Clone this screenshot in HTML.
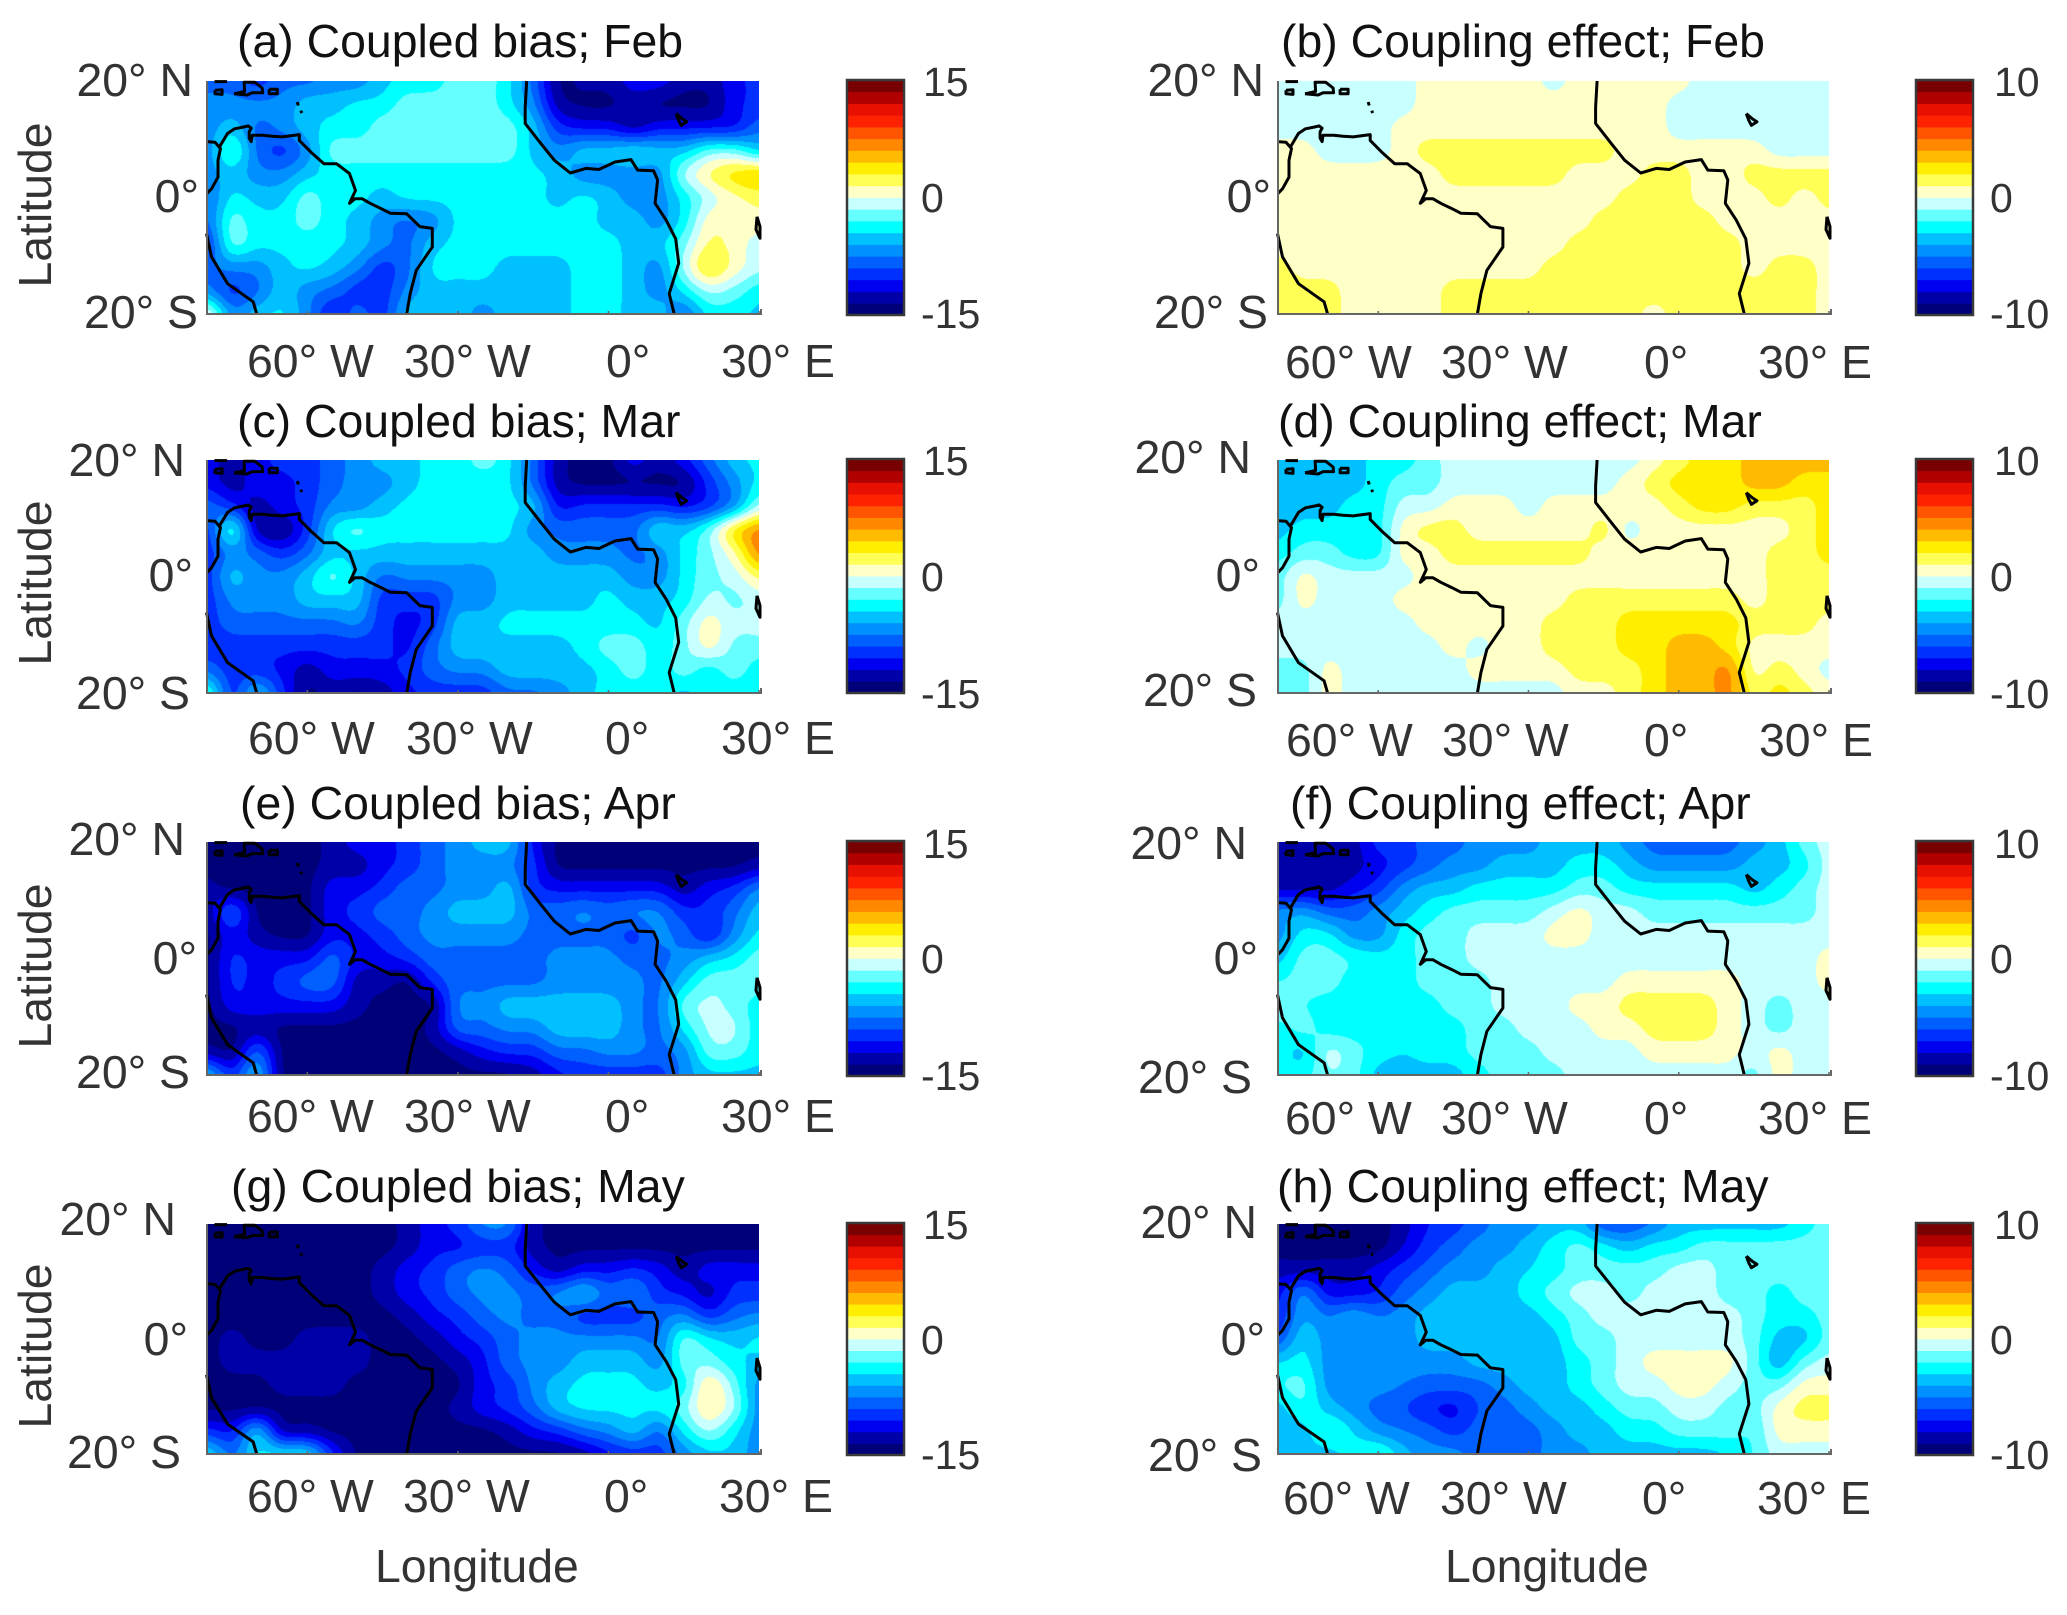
<!DOCTYPE html>
<html lang="en">
<head>
<meta charset="utf-8">
<title>Coupled bias and coupling effect maps</title>
<style>
html,body{margin:0;padding:0;background:#fff;}
#figure{position:relative;width:2067px;height:1615px;overflow:hidden;background:#fff;}
canvas{position:absolute;display:block;}
#overlay{position:absolute;left:0;top:0;}
text{font-family:"Liberation Sans",Arial,sans-serif;font-size:46.4px;fill:#333;}
text.title{fill:#111;}
text.cb{font-size:41px;}
</style>
</head>
<body>
<div id="figure">
<canvas id="cv-a" width="552" height="233" style="left:207px;top:81px"></canvas>
<canvas id="cv-b" width="551" height="233" style="left:1278px;top:81px"></canvas>
<canvas id="cv-c" width="552" height="233" style="left:207px;top:460px"></canvas>
<canvas id="cv-d" width="551" height="233" style="left:1278px;top:460px"></canvas>
<canvas id="cv-e" width="552" height="233" style="left:207px;top:842px"></canvas>
<canvas id="cv-f" width="551" height="233" style="left:1278px;top:842px"></canvas>
<canvas id="cv-g" width="552" height="230" style="left:207px;top:1224px"></canvas>
<canvas id="cv-h" width="551" height="230" style="left:1278px;top:1224px"></canvas>
<svg id="overlay" width="2067" height="1615" viewBox="0 0 2067 1615" xmlns="http://www.w3.org/2000/svg">
<g id="marks"></g>

<text class="title" x="237" y="57">(a) Coupled bias; Feb</text>
<text class="title" x="1281" y="57">(b) Coupling effect; Feb</text>
<text class="title" x="237" y="437">(c) Coupled bias; Mar</text>
<text class="title" x="1278" y="437">(d) Coupling effect; Mar</text>
<text class="title" x="240" y="819">(e) Coupled bias; Apr</text>
<text class="title" x="1290" y="819">(f) Coupling effect; Apr</text>
<text class="title" x="231" y="1202">(g) Coupled bias; May</text>
<text class="title" x="1277" y="1202">(h) Coupling effect; May</text>

<g text-anchor="end">
<text x="193" y="96">20° N</text>
<text x="199" y="212">0°</text>
<text x="198" y="328">20° S</text>
<text x="1264" y="96">20° N</text>
<text x="1271" y="212">0°</text>
<text x="1268" y="328">20° S</text>
<text x="185" y="476">20° N</text>
<text x="193" y="591">0°</text>
<text x="190" y="709">20° S</text>
<text x="1251" y="473">20° N</text>
<text x="1260" y="591">0°</text>
<text x="1257" y="706">20° S</text>
<text x="185" y="855">20° N</text>
<text x="197" y="974">0°</text>
<text x="190" y="1088">20° S</text>
<text x="1247" y="859">20° N</text>
<text x="1258" y="974">0°</text>
<text x="1252" y="1093">20° S</text>
<text x="176" y="1235">20° N</text>
<text x="188" y="1355">0°</text>
<text x="181" y="1468">20° S</text>
<text x="1257" y="1238">20° N</text>
<text x="1265" y="1355">0°</text>
<text x="1262" y="1471">20° S</text>
</g>

<g>
<text x="247" y="377">60° W</text>
<text x="404" y="377">30° W</text>
<text x="606" y="377">0°</text>
<text x="721" y="377">30° E</text>
<text x="1285" y="378">60° W</text>
<text x="1441" y="378">30° W</text>
<text x="1644" y="378">0°</text>
<text x="1758" y="378">30° E</text>
<text x="248" y="754">60° W</text>
<text x="406" y="754">30° W</text>
<text x="605" y="754">0°</text>
<text x="721" y="754">30° E</text>
<text x="1286" y="756">60° W</text>
<text x="1442" y="756">30° W</text>
<text x="1644" y="756">0°</text>
<text x="1759" y="756">30° E</text>
<text x="247" y="1132">60° W</text>
<text x="404" y="1132">30° W</text>
<text x="605" y="1132">0°</text>
<text x="721" y="1132">30° E</text>
<text x="1285" y="1134">60° W</text>
<text x="1441" y="1134">30° W</text>
<text x="1644" y="1134">0°</text>
<text x="1758" y="1134">30° E</text>
<text x="247" y="1512">60° W</text>
<text x="403" y="1512">30° W</text>
<text x="604" y="1512">0°</text>
<text x="719" y="1512">30° E</text>
<text x="1283" y="1514">60° W</text>
<text x="1440" y="1514">30° W</text>
<text x="1642" y="1514">0°</text>
<text x="1757" y="1514">30° E</text>
</g>

<g>
<text class="cb" x="923" y="96">15</text>
<text class="cb" x="921" y="212">0</text>
<text class="cb" x="921" y="328">-15</text>
<text class="cb" x="1994" y="96">10</text>
<text class="cb" x="1990" y="212">0</text>
<text class="cb" x="1990" y="328">-10</text>
<text class="cb" x="923" y="475">15</text>
<text class="cb" x="921" y="591">0</text>
<text class="cb" x="921" y="708">-15</text>
<text class="cb" x="1994" y="475">10</text>
<text class="cb" x="1990" y="591">0</text>
<text class="cb" x="1990" y="708">-10</text>
<text class="cb" x="923" y="858">15</text>
<text class="cb" x="921" y="973">0</text>
<text class="cb" x="921" y="1090">-15</text>
<text class="cb" x="1994" y="858">10</text>
<text class="cb" x="1990" y="973">0</text>
<text class="cb" x="1990" y="1090">-10</text>
<text class="cb" x="923" y="1239">15</text>
<text class="cb" x="921" y="1354">0</text>
<text class="cb" x="921" y="1469">-15</text>
<text class="cb" x="1994" y="1239">10</text>
<text class="cb" x="1990" y="1354">0</text>
<text class="cb" x="1990" y="1469">-10</text>
</g>

<g text-anchor="middle">
<text transform="translate(51,205) rotate(-90)">Latitude</text>
<text transform="translate(51,583) rotate(-90)">Latitude</text>
<text transform="translate(51,966) rotate(-90)">Latitude</text>
<text transform="translate(51,1346) rotate(-90)">Latitude</text>
</g>
<text x="375" y="1582">Longitude</text>
<text x="1445" y="1582">Longitude</text>
</svg>
</div>

<script>
// Grid axes of every map (degrees)
const gridLons = [-80,-75,-70,-65,-60,-55,-50,-45,-40,-35,-30,-25,-20,-15,-10,-5,0,5,10,15,20,25,30];
const gridLats = [20,16,12,8,4,0,-4,-8,-12,-16,-20];
const lonTicks = [-60,-30,0,30];
const biasLimit = 15;
const effectLimit = 10;
const levelColors = ['#000078','#0000a8','#0000f0','#0030ff','#0060ff','#0090ff','#00c0ff','#00ffff','#66ffff','#c8ffff','#ffffc8','#ffff55','#ffee00','#ffbb00','#ff8800','#ff5500','#ff2200','#e81000','#b00000','#780000'];

// (a) Coupled bias; Feb
const biasFeb = [
[-8,-8,-10,-8,-8,-7,-7,-5,-4,-4,-2,-2,-4,-8,-14,-13,-13,-11,-11,-13,-13,-11,-10],
[-7,-7,-7,-7,-5,-5,-4,-4,-2,-2,-2,-2,-4,-7,-13,-14,-14,-13,-14,-14,-14,-11,-10],
[-7,-5,-8,-7,-5,-4,-4,-2,-2,-2,-2,-2,-2,-5,-10,-11,-11,-13,-11,-11,-11,-11,-8],
[-7,-2,-8,-10,-7,-2,-2,-2,-2,-2,-2,-2,-2,-5,-7,-5,-5,-4,-5,-5,-2,-2,-5],
[-7,-5,-7,-7,-5,-4,-4,-4,-4,-4,-4,-4,-4,-4,-5,-7,-7,-7,-7,-1,2,4,5],
[-8,-4,-5,-5,-2,-4,-4,-5,-4,-4,-4,-4,-4,-4,-5,-4,-5,-7,-7,-4,-1,1,2],
[-8,-2,-4,-4,-2,-4,-5,-7,-8,-7,-4,-4,-4,-4,-4,-4,-5,-5,-7,-4,1,1,1],
[-10,-2,-4,-4,-4,-4,-5,-7,-8,-5,-4,-4,-4,-4,-4,-4,-4,-5,-5,-2,2,1,-1],
[-8,-7,-7,-5,-4,-5,-7,-10,-8,-4,-4,-4,-5,-5,-5,-4,-4,-5,-7,-1,4,1,-1],
[-7,-10,-8,-5,-7,-8,-10,-10,-7,-5,-5,-5,-5,-5,-5,-4,-4,-5,-7,-4,-1,-2,-4],
[1,-7,-5,-4,-7,-11,-8,-10,-5,-5,-5,-7,-5,-5,-5,-4,-4,-5,-5,-8,-4,-4,-5]
];
// (c) Coupled bias; Mar
const biasMar = [
[-11,-13,-11,-10,-10,-8,-7,-5,-5,-4,-4,-2,-4,-8,-13,-14,-14,-11,-13,-11,-8,-5,-4],
[-11,-13,-11,-11,-10,-8,-7,-7,-5,-4,-4,-4,-4,-8,-13,-14,-14,-14,-14,-14,-10,-7,-4],
[-8,-10,-13,-11,-10,-7,-7,-5,-4,-4,-4,-4,-4,-5,-11,-10,-10,-10,-10,-11,-10,-7,-1],
[-10,-2,-13,-14,-10,-4,-2,-4,-4,-4,-4,-4,-4,-7,-8,-8,-8,-8,-4,-5,-2,4,7],
[-10,-7,-8,-10,-8,-5,-5,-5,-5,-5,-5,-5,-5,-5,-7,-7,-7,-8,-7,-4,-2,1,7],
[-10,-5,-7,-7,-5,-2,-5,-8,-7,-7,-7,-7,-5,-5,-5,-5,-5,-7,-7,-4,-2,-1,2],
[-10,-7,-7,-7,-5,-5,-5,-10,-10,-10,-7,-7,-5,-5,-5,-5,-4,-5,-5,-4,-1,-2,-1],
[-10,-8,-8,-8,-8,-8,-7,-10,-11,-10,-5,-5,-4,-4,-4,-4,-4,-4,-5,-2,1,-1,-1],
[-10,-10,-10,-10,-10,-10,-10,-10,-11,-8,-5,-5,-5,-5,-5,-4,-2,-2,-4,-2,1,-2,-2],
[-8,-10,-10,-11,-13,-11,-11,-11,-10,-8,-7,-7,-5,-5,-5,-5,-4,-2,-4,-2,-4,-2,-4],
[-2,-10,-5,-10,-14,-13,-14,-13,-11,-10,-10,-10,-8,-8,-7,-5,-4,-4,-4,-5,-4,-4,-4]
];
// (e) Coupled bias; Apr
const biasApr = [
[-14,-14,-14,-14,-14,-13,-11,-11,-10,-8,-7,-5,-5,-11,-14,-14,-14,-14,-14,-14,-14,-14,-14],
[-14,-14,-14,-14,-14,-13,-13,-11,-10,-8,-7,-7,-7,-10,-14,-14,-14,-14,-14,-14,-14,-14,-13],
[-13,-14,-14,-14,-14,-11,-11,-10,-8,-8,-7,-7,-5,-10,-11,-11,-11,-11,-11,-13,-11,-10,-7],
[-13,-8,-14,-14,-14,-11,-10,-8,-8,-7,-5,-5,-5,-8,-8,-7,-8,-7,-7,-10,-10,-8,-5],
[-14,-11,-13,-14,-14,-11,-11,-10,-8,-7,-7,-7,-7,-8,-8,-8,-8,-10,-7,-8,-11,-7,-4],
[-14,-10,-11,-11,-11,-8,-11,-11,-10,-8,-8,-8,-8,-8,-7,-7,-7,-8,-8,-7,-5,-4,-2],
[-14,-10,-11,-10,-8,-8,-13,-13,-14,-10,-8,-8,-8,-8,-7,-7,-7,-7,-8,-5,-2,-2,-2],
[-14,-11,-11,-11,-11,-11,-13,-14,-14,-14,-7,-7,-5,-5,-5,-5,-5,-7,-8,-2,-1,-2,-4],
[-14,-14,-13,-14,-14,-14,-14,-14,-14,-13,-8,-8,-7,-7,-5,-5,-5,-7,-8,-4,-1,-1,-4],
[-13,-14,-8,-14,-14,-14,-14,-14,-14,-14,-13,-11,-10,-10,-8,-8,-7,-7,-8,-7,-2,-2,-4],
[-5,-10,-5,-14,-14,-14,-14,-14,-14,-14,-14,-14,-14,-13,-11,-10,-10,-10,-10,-7,-5,-5,-5]
];
// (g) Coupled bias; May
const biasMay = [
[-14,-14,-14,-14,-14,-14,-14,-14,-13,-11,-10,-7,-7,-13,-14,-14,-14,-14,-14,-14,-14,-14,-14],
[-14,-14,-14,-14,-14,-14,-14,-14,-13,-11,-11,-10,-10,-13,-14,-14,-14,-14,-14,-14,-14,-14,-14],
[-14,-14,-14,-14,-14,-14,-14,-13,-11,-10,-8,-7,-8,-11,-13,-11,-11,-10,-11,-13,-11,-11,-11],
[-14,-14,-14,-14,-14,-14,-14,-13,-11,-10,-8,-7,-7,-8,-7,-5,-8,-7,-10,-11,-13,-10,-10],
[-14,-14,-14,-14,-14,-14,-14,-14,-13,-11,-10,-8,-7,-8,-8,-10,-10,-10,-8,-7,-10,-8,-7],
[-14,-13,-14,-14,-13,-13,-13,-14,-14,-13,-11,-10,-8,-7,-7,-7,-7,-7,-8,-2,-4,-5,-4],
[-14,-13,-13,-13,-13,-13,-13,-14,-14,-14,-13,-11,-8,-7,-7,-5,-5,-5,-7,-2,-2,-4,-5],
[-14,-14,-14,-13,-13,-13,-14,-14,-14,-14,-14,-11,-10,-7,-5,-4,-4,-4,-5,-4,2,-2,-7],
[-14,-14,-14,-14,-14,-14,-14,-14,-14,-14,-13,-11,-10,-8,-5,-4,-4,-4,-4,-2,2,-1,-7],
[-10,-11,-5,-13,-13,-14,-14,-14,-14,-14,-14,-14,-13,-11,-10,-8,-7,-5,-8,-4,-1,-4,-7],
[-4,-8,-4,-4,-4,-10,-14,-14,-14,-14,-14,-14,-14,-14,-14,-13,-11,-10,-10,-7,-5,-5,-7]
];
// (b) Coupling effect; Feb
const effectFeb = [
[-.5,-.5,-.5,-.5,-.5,-.5,.5,.5,.5,.5,.5,-.5,.5,.5,.5,.5,.5,-.5,-.5,-.5,-.5,-.5,-.5],
[-.5,-.5,-.5,-.5,-.5,-.5,.5,.5,.5,.5,.5,.5,.5,.5,.5,.5,-.5,-.5,-.5,-.5,-.5,-.5,-.5],
[-.5,-.5,-.5,-.5,-.5,.5,.5,.5,.5,.5,.5,.5,.5,.5,.5,.5,-.5,-.5,-.5,-.5,-.5,-.5,-.5],
[.5,.5,-.5,-.5,-.5,.5,1.5,1.5,1.5,1.5,1.5,1.5,1.5,1.5,.5,.5,.5,.5,.5,.5,-.5,-.5,-.5],
[.5,.5,.5,.5,.5,.5,.5,1.5,1.5,1.5,1.5,1.5,.5,.5,.5,1.5,1.5,.5,.5,1.5,1.5,1.5,1.5],
[.5,.5,.5,.5,.5,.5,.5,.5,.5,.5,.5,.5,.5,.5,1.5,1.5,1.5,.5,.5,.5,1.5,.5,1.5],
[.5,.5,.5,.5,.5,.5,.5,.5,.5,.5,.5,.5,.5,1.5,1.5,1.5,1.5,1.5,.5,.5,.5,.5,.5],
[.5,.5,.5,.5,.5,.5,.5,.5,.5,.5,.5,.5,1.5,1.5,1.5,1.5,1.5,1.5,1.5,.5,.5,.5,.5],
[1.5,.5,.5,.5,.5,.5,.5,.5,.5,.5,.5,1.5,1.5,1.5,1.5,1.5,1.5,1.5,1.5,.5,1.5,1.5,.5],
[1.5,1.5,1.5,.5,.5,.5,.5,1.5,1.5,1.5,1.5,1.5,1.5,1.5,1.5,1.5,1.5,1.5,1.5,1.5,1.5,1.5,.5],
[1.5,1.5,1.5,.5,.5,.5,.5,1.5,1.5,1.5,1.5,1.5,1.5,1.5,1.5,.5,1.5,1.5,1.5,1.5,1.5,1.5,.5]
];
// (d) Coupling effect; Mar
const effectMar = [
[-3.5,-3.5,-3.5,-3.5,-2.5,-2.5,-1.5,-.5,-.5,-.5,-.5,-.5,-.5,-.5,-.5,.5,1.5,2.5,2.5,3.5,3.5,3.5,3.5],
[-3.5,-3.5,-3.5,-3.5,-2.5,-1.5,-1.5,-.5,-.5,-.5,-.5,-.5,-.5,-.5,.5,1.5,2.5,2.5,2.5,3.5,3.5,2.5,2.5],
[-3.5,-3.5,-3.5,-2.5,-2.5,-.5,-.5,.5,.5,.5,-.5,.5,.5,.5,.5,.5,1.5,2.5,2.5,1.5,1.5,1.5,2.5],
[-3.5,-2.5,-2.5,-2.5,-2.5,.5,1.5,1.5,.5,.5,.5,.5,.5,1.5,-.5,.5,.5,.5,.5,.5,.5,1.5,2.5],
[-2.5,-1.5,-1.5,-2.5,-2.5,.5,.5,1.5,1.5,1.5,1.5,1.5,1.5,.5,.5,.5,.5,.5,.5,.5,1.5,1.5,2.5],
[-1.5,.5,-.5,-.5,-.5,-.5,.5,.5,.5,.5,.5,.5,.5,.5,.5,.5,.5,.5,.5,.5,1.5,1.5,1.5],
[-1.5,.5,-.5,-.5,-.5,.5,.5,.5,.5,.5,.5,.5,1.5,1.5,1.5,1.5,1.5,1.5,1.5,.5,1.5,1.5,1.5],
[-.5,-.5,-.5,-.5,-.5,-.5,.5,.5,.5,.5,.5,1.5,1.5,1.5,2.5,2.5,2.5,2.5,2.5,1.5,1.5,1.5,.5],
[-.5,-.5,-.5,-.5,-.5,-.5,-.5,.5,-.5,.5,.5,1.5,1.5,1.5,2.5,2.5,3.5,3.5,2.5,.5,.5,.5,.5],
[-1.5,-1.5,.5,-.5,-.5,-.5,-.5,-.5,.5,.5,.5,.5,1.5,1.5,1.5,2.5,3.5,3.5,4.5,.5,1.5,.5,-.5],
[-1.5,-1.5,.5,-.5,-.5,-.5,-.5,-.5,-.5,-.5,-.5,-.5,.5,.5,1.5,2.5,3.5,3.5,4.5,1.5,2.5,1.5,.5]
];
// (f) Coupling effect; Apr
const effectApr = [
[-8.5,-8.5,-8.5,-8.5,-6.5,-6.5,-5.5,-5.5,-4.5,-4.5,-4.5,-3.5,-3.5,-3.5,-4.5,-5.5,-5.5,-5.5,-5.5,-4.5,-3.5,-1.5,-.5],
[-8.5,-8.5,-8.5,-8.5,-7.5,-6.5,-5.5,-4.5,-4.5,-3.5,-3.5,-3.5,-2.5,-2.5,-3.5,-4.5,-4.5,-4.5,-4.5,-3.5,-3.5,-2.5,-.5],
[-8.5,-8.5,-8.5,-7.5,-6.5,-4.5,-3.5,-3.5,-2.5,-2.5,-2.5,-2.5,-1.5,-1.5,-2.5,-2.5,-2.5,-2.5,-2.5,-3.5,-2.5,-1.5,-.5],
[-4.5,-4,-5.5,-5.5,-4.5,-3.5,-2.5,-1.5,-1.5,-1.5,-1.5,-.5,.5,-.5,-.5,-1.5,-1.5,-1.5,-1.5,-1.5,-1.5,-1.5,-.5],
[-4.5,-2.5,-2.5,-4.5,-4.5,-2.5,-1.5,-1.5,-.5,-.5,-.5,.5,.5,-.5,-.5,-.5,-.5,-.5,-.5,-.5,-.5,-.5,-.5],
[-3.5,-1.5,-1.5,-2,-2.5,-2.5,-1.5,-1.5,-.5,-.5,-.5,-.5,-.5,-.5,-.5,-.5,-.5,-.5,-.5,-.5,-.5,-.5,.5],
[-2,-1.5,-1.5,-2.5,-2.5,-2.5,-1.5,-1.5,-1.5,-.5,-.5,-.5,-.5,-.5,.5,.5,.5,.5,.5,-.5,-.5,-.5,.5],
[-1,-2,-2.5,-2.5,-2.5,-2.5,-2.5,-1.5,-1.5,-.5,-.5,-.5,.5,.5,1.5,1.5,1.5,1.5,.5,-.5,-1.5,-.5,-.5],
[-2.5,-1.5,-2.5,-2.5,-2.5,-2.5,-2.5,-2.5,-1.5,-1.5,-.5,-.5,-.5,.5,.5,1.5,1.5,1.5,.5,-.5,-1.5,-.5,-.5],
[-2.5,-3.5,-.5,-1.5,-2.5,-3,-2.5,-2.5,-1.5,-1.5,-1.5,-.5,-.5,-.5,-.5,.5,.5,.5,.5,-.5,.5,-.5,-.5],
[-2.5,-2.5,-1,-1.5,-3.5,-3.5,-3.5,-3.5,-2.5,-1.5,-1.5,-1.5,-.5,-.5,-.5,-.5,-.5,-.5,-.5,-1.5,.5,-.5,-.5]
];
// (h) Coupling effect; May
const effectMay = [
[-9.5,-9.5,-9.5,-9.5,-9.5,-8.5,-7,-6.5,-5.5,-4.5,-4.5,-3.5,-3.5,-6,-6,-5,-3.5,-3.5,-3.5,-3.5,-3.5,-2.5,-1.5],
[-9.5,-9.5,-9.5,-9.5,-9.5,-8,-6.5,-5.5,-4.5,-4.5,-3.5,-2.5,-1.5,-2.5,-3.5,-2.5,-2.5,-1.5,-1.5,-1.5,-1.5,-1.5,-1.5],
[-8.5,-8.5,-8.5,-8.5,-7.5,-6.5,-5.5,-4.5,-4.5,-3.5,-3,-2.5,-1.5,-1.5,-1.5,-1.5,-.5,-.5,-1.5,-1.5,-1.5,-1.5,-1.5],
[-7.5,-4.5,-7.5,-7.5,-7,-5.5,-4.5,-3.5,-3.5,-3.5,-2.5,-1.5,-.5,-.5,-1.5,-.5,-.5,-.5,-1.5,-1.5,-2.5,-1.5,-1.5],
[-7,-4,-5,-4,-5,-4.5,-3.5,-3.5,-3.5,-3.5,-3.5,-2.5,-1.5,-.5,-.5,-.5,-.5,-.5,-.5,-1.5,-2.5,-2.5,-1.5],
[-6,-3,-4.5,-4.5,-4.5,-4.5,-3.5,-3.5,-3.5,-3.5,-3.5,-3.5,-1.5,-1.5,-.5,-.5,-.5,-.5,-.5,-1.5,-3.5,-3.5,-1.5],
[-3,-2.5,-4.5,-4.5,-4.5,-4.5,-4.5,-4.5,-3.5,-3.5,-3.5,-3.5,-2.5,-1.5,-.5,.5,.5,.5,.5,-1.5,-4,-1.5,-.5],
[-2,-1.5,-4.5,-4.5,-4.5,-5,-5.5,-5.5,-5.5,-4.5,-3.5,-3.5,-2.5,-1.5,-.5,-.5,.5,.5,-.5,-1.5,-1.5,.5,.5],
[-3.5,-2,-3.5,-4.5,-5.5,-6,-7,-7.5,-6,-5.5,-4.5,-3.5,-3.5,-2.5,-1.5,-1.5,-.5,-.5,-1.5,-1.5,.5,1.5,1.5],
[-3.5,-3.5,-1.5,-3,-4.5,-5,-5.5,-6.5,-5.5,-5.5,-5.5,-4.5,-3.5,-3.5,-2.5,-2.5,-1.5,-1.5,-1.5,-2,.5,.5,.5],
[-3.5,-3.5,-3.5,-2.5,-1.5,-3.5,-4.5,-4.5,-5.5,-5.5,-5.5,-4.5,-4.5,-3.5,-3.5,-3.5,-3.5,-3.5,-3,-2,-.5,-.5,-.5]
];

// Coastlines, lakes and islands as [lon, lat]
const coastPacific = [[-80.1,9.6],[-78.4,9.5],[-77.3,8.4],[-77.8,6.4],[-77.8,3.5],[-79.1,1.5],[-80,0.7]];
const coastSouthAmericaEast = [[-77.5,8.7],[-75.9,11],[-74.5,11.8],[-72.7,12.1],[-71.8,12.3],[-71.2,11.9],[-71.6,11.3],[-71.6,10.2],[-71.2,9.6],[-71,10.7],[-68.9,10.7],[-67,10.5],[-65,10.4],[-61.6,10.8],[-61.6,9.8],[-59.3,7.8],[-56.7,5.8],[-54.2,5.8],[-51.6,4.1],[-50.4,1.2],[-51.6,-1],[-50.5,-0.2],[-49.1,-0.2],[-47.5,-1],[-45.3,-1.9],[-43.5,-2.7],[-40.2,-2.8],[-37.6,-5],[-35.1,-5.3],[-35.1,-8.5],[-38.3,-12.5],[-39.5,-16.5],[-40.2,-20]];
const coastPeru = [[-80.1,-6.2],[-79.1,-10.2],[-75.9,-14.8],[-70.8,-17.9],[-70.1,-20]];
const coastAfrica = [[-16.3,20],[-16.6,15.5],[-16.6,12.7],[-13.4,9.2],[-10.8,6.4],[-7.6,4.2],[-4.5,5],[-1.9,4.8],[1.3,6.1],[4.5,6.5],[5.8,4.7],[9,4.6],[9.8,3],[9.3,-1],[11.5,-3.9],[13.4,-7.1],[14,-11.3],[12.1,-16.5],[13.1,-20]];
const lakeChad = [[13.5,14.4],[14.7,13.5],[15.6,13],[14.5,12.4],[14,13.2],[13.5,14.4]];
const lakeVictoria = [[29.6,-3.3],[30.2,-5],[30.2,-7],[29.4,-5.5],[29.6,-3.3]];
const islandOne = [[-78.4,18.4],[-77,18.5],[-77,17.7],[-78.4,17.8],[-78.4,18.4]];
const islandTwo = [[-74.6,17.8],[-72.5,18.2],[-72.6,19.8],[-70.5,19.8],[-69,18.8],[-68.9,18],[-71,18],[-72,17.6],[-74.6,17.8]];
const islandThree = [[-67.6,18.6],[-66,18.6],[-66,17.8],[-67.6,17.8],[-67.6,18.6]];
const islandTop = [[-78.5,19.9],[-76,19.9]];
const islandDotOne = [[-62,16.4],[-61.8,15.8]];
const islandDotTwo = [[-61.3,14.9],[-61.1,14.5]];
const coastlines = [coastPacific,coastSouthAmericaEast,coastPeru,coastAfrica,lakeChad,lakeVictoria,islandOne,islandTwo,islandThree,islandTop,islandDotOne,islandDotTwo];

// Layout of the figure
const panels = [
 {id:'a',values:biasFeb,limit:biasLimit,x:207,y:81,w:552,h:233,cx:847,cy:80,ch:235},
 {id:'b',values:effectFeb,limit:effectLimit,x:1278,y:81,w:551,h:233,cx:1916,cy:80,ch:235},
 {id:'c',values:biasMar,limit:biasLimit,x:207,y:460,w:552,h:233,cx:847,cy:459,ch:234},
 {id:'d',values:effectMar,limit:effectLimit,x:1278,y:460,w:551,h:233,cx:1916,cy:459,ch:234},
 {id:'e',values:biasApr,limit:biasLimit,x:207,y:842,w:552,h:233,cx:847,cy:841,ch:235},
 {id:'f',values:effectApr,limit:effectLimit,x:1278,y:842,w:551,h:233,cx:1916,cy:841,ch:235},
 {id:'g',values:biasMay,limit:biasLimit,x:207,y:1224,w:552,h:230,cx:847,cy:1223,ch:232},
 {id:'h',values:effectMay,limit:effectLimit,x:1278,y:1224,w:551,h:230,cx:1916,cy:1223,ch:232}
];
const cbarWidth = 57;
const SVGNS = 'http://www.w3.org/2000/svg';

const lonMin = gridLons[0], lonMax = gridLons[gridLons.length-1];
const latMax = gridLats[0], latMin = gridLats[gridLats.length-1];
function xScale(lon,p){ return p.x+(lon-lonMin)/(lonMax-lonMin)*p.w; }
function yScale(lat,p){ return p.y+(latMax-lat)/(latMax-latMin)*p.h; }
function levelOf(v,limit){
  const k = Math.floor((v+limit)/(2*limit)*levelColors.length);
  return Math.max(0,Math.min(levelColors.length-1,k));
}
function rgbOf(hex){
  return [parseInt(hex.slice(1,3),16),parseInt(hex.slice(3,5),16),parseInt(hex.slice(5,7),16)];
}
// Blend of an interpolating and an approximating cubic: keeps small features, rounds plateau corners
function cubic(a,b,c,d,t){
  const cr = b+0.5*t*(c-a+t*(2*a-5*b+4*c-d+t*(3*(b-c)+d-a)));
  const t2 = t*t, t3 = t2*t;
  const bs = ((1-3*t+3*t2-t3)*a+(4-6*t2+3*t3)*b+(1+3*t+3*t2-3*t3)*c+t3*d)/6;
  return 0.5*cr+0.5*bs;
}
function sampleGrid(values,u,v){
  const nr = values.length;
  const iu = Math.floor(u), iv = Math.floor(v);
  const fu = u-iu, fv = v-iv;
  const rowVals = [];
  for(let r=-1;r<=2;r++){
    const row = values[Math.max(0,Math.min(nr-1,iv+r))];
    const nc = row.length;
    const at = function(c){ return row[Math.max(0,Math.min(nc-1,c))]; };
    rowVals.push(cubic(at(iu-1),at(iu),at(iu+1),at(iu+2),fu));
  }
  return cubic(rowVals[0],rowVals[1],rowVals[2],rowVals[3],fv);
}
function drawMap(p){
  const cv = document.getElementById('cv-'+p.id);
  const ctx = cv.getContext('2d');
  const W = cv.width, H = cv.height;
  const img = ctx.createImageData(W,H);
  const rgb = levelColors.map(rgbOf);
  const lonStep = (lonMax-lonMin)/(gridLons.length-1);
  const latStep = (latMax-latMin)/(gridLats.length-1);
  for(let j=0;j<H;j++){
    const lat = latMax-(j+0.5)/H*(latMax-latMin);
    const v = (latMax-lat)/latStep;
    for(let i=0;i<W;i++){
      const lon = lonMin+(i+0.5)/W*(lonMax-lonMin);
      const u = (lon-lonMin)/lonStep;
      const c = rgb[levelOf(sampleGrid(p.values,u,v),p.limit)];
      const o = (j*W+i)*4;
      img.data[o]=c[0]; img.data[o+1]=c[1]; img.data[o+2]=c[2]; img.data[o+3]=255;
    }
  }
  ctx.putImageData(img,0,0);
}
function drawDecor(p){
  const g = document.getElementById('marks');
  coastlines.forEach(function(seg){
    const line = document.createElementNS(SVGNS,'polyline');
    
    
    line.setAttribute('points', seg.map(function(q){ return xScale(q[0],p).toFixed(1)+','+yScale(q[1],p).toFixed(1); }).join(' '));
    line.setAttribute('fill','none');
    line.setAttribute('stroke','#000');
    line.setAttribute('stroke-width','3');
    line.setAttribute('stroke-linejoin','round');
    g.appendChild(line);
  });
  const axis = document.createElementNS(SVGNS,'path');
  
  
  axis.setAttribute('d','M'+p.x+' '+p.y+'V'+(p.y+p.h)+'H'+(p.x+p.w+2)+'V'+(p.y+p.h-5));
  axis.setAttribute('fill','none');
  axis.setAttribute('stroke','#666');
  axis.setAttribute('stroke-width','2');
  g.appendChild(axis);
  lonTicks.forEach(function(t){
    const tick = document.createElementNS(SVGNS,'line');
    
    
    const x = xScale(t,p);
    tick.setAttribute('x1',x); tick.setAttribute('x2',x);
    tick.setAttribute('y1',p.y+p.h); tick.setAttribute('y2',p.y+p.h-3);
    tick.setAttribute('stroke','#666');
    tick.setAttribute('stroke-width','1.5');
    g.appendChild(tick);
  });
  const n = levelColors.length;
  levelColors.forEach(function(col,i){
    const seg = document.createElementNS(SVGNS,'rect');
    
    
    const y0 = p.cy+p.ch*(n-1-i)/n;
    seg.setAttribute('x',p.cx);
    seg.setAttribute('y',y0.toFixed(2));
    seg.setAttribute('width',cbarWidth);
    seg.setAttribute('height',(p.ch/n+0.4).toFixed(2));
    seg.setAttribute('fill',col);
    g.appendChild(seg);
  });
  const frame = document.createElementNS(SVGNS,'rect');
  
  
  frame.setAttribute('x',p.cx);
  frame.setAttribute('y',p.cy);
  frame.setAttribute('width',cbarWidth);
  frame.setAttribute('height',p.ch);
  frame.setAttribute('fill','none');
  frame.setAttribute('stroke','#3a3a3a');
  frame.setAttribute('stroke-width','2.5');
  g.appendChild(frame);
}
panels.forEach(function(p){ drawMap(p); drawDecor(p); });
</script>
</body>
</html>
